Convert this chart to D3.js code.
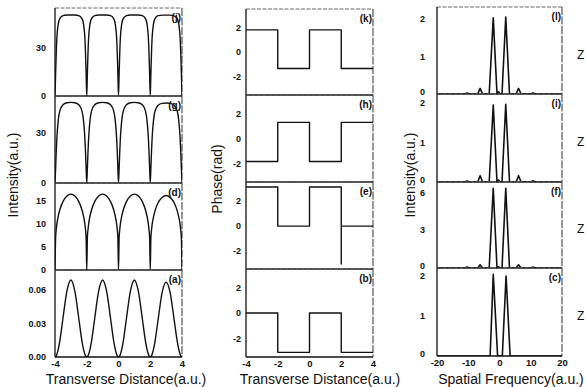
<!DOCTYPE html>
<html>
<head>
<meta charset="utf-8">
<script src="https://cdn.jsdelivr.net/npm/d3@7"></script>
<style>
	body { margin: 0; background: #fff; }
	text { font-family: "Liberation Sans", Arial, sans-serif; fill: #111; }
</style>
</head>
<body>
<svg id="vis"></svg>
<script>
	// ---- data ----
	// transverse distance samples (left column)
	var xGrid = [-4, -3.96, -3.92, -3.88, -3.8, -3.7, -3.5, -3.25, -3, -2.75, -2.5, -2.3, -2.2, -2.12, -2.08, -2.04,
		-2, -1.96, -1.92, -1.88, -1.8, -1.7, -1.5, -1.25, -1, -0.75, -0.5, -0.3, -0.2, -0.12, -0.08, -0.04,
		0, 0.04, 0.08, 0.12, 0.2, 0.3, 0.5, 0.75, 1, 1.25, 1.5, 1.7, 1.8, 1.88, 1.92, 1.96,
		2, 2.04, 2.08, 2.12, 2.2, 2.3, 2.5, 2.75, 3, 3.25, 3.5, 3.7, 3.8, 3.88, 3.92, 3.96, 4];

	var jVals = [0, 14, 27, 36, 44, 47.5, 49.3, 49.7, 49.7, 49.7, 49.3, 47.5, 44, 36, 27, 14,
		0, 14, 27, 36, 44, 47.5, 49.3, 49.7, 49.7, 49.7, 49.3, 47.5, 44, 36, 27, 14,
		0, 14, 27, 36, 44, 47.5, 49.3, 49.7, 49.7, 49.7, 49.3, 47.5, 44, 36, 27, 14,
		0, 14, 27, 36, 44, 47.5, 49.3, 49.6, 49.6, 49.6, 49.2, 47.5, 44, 36, 27, 14, 0];

	var gVals = [0, 9, 19, 27, 37, 43, 46.8, 48, 48.2, 48, 46.8, 43, 37, 27, 19, 9,
		0, 9, 19, 27, 37, 43, 46.8, 48, 48.2, 48, 46.8, 43, 37, 27, 19, 9,
		0, 9, 19, 27, 37, 43, 46.8, 48, 48.2, 48, 46.8, 43, 37, 27, 19, 9,
		0, 9, 19, 27, 37, 43, 46.5, 47.6, 47.8, 47.6, 46.5, 43, 37, 27, 19, 9, 0];

	var dVals = [0, 7, 8.7, 9.9, 11.5, 12.9, 14.7, 15.9, 16.3, 15.9, 14.7, 12.9, 11.5, 9.9, 8.7, 7,
		0, 7, 8.7, 9.9, 11.5, 12.9, 14.7, 15.9, 16.3, 15.9, 14.7, 12.9, 11.5, 9.9, 8.7, 7,
		0, 7, 8.7, 9.9, 11.5, 12.9, 14.7, 15.9, 16.3, 15.9, 14.7, 12.9, 11.5, 9.9, 8.7, 7,
		0, 7, 8.6, 9.8, 11.3, 12.7, 14.5, 15.6, 16.0, 15.6, 14.5, 12.7, 11.3, 9.8, 8.6, 7, 0];

	var aVals = [0, 0.0003, 0.001, 0.0025, 0.0066, 0.014, 0.0345, 0.059, 0.069, 0.059, 0.0345, 0.014, 0.0066, 0.0025, 0.001, 0.0003,
		0, 0.0003, 0.001, 0.0025, 0.0066, 0.014, 0.0345, 0.059, 0.069, 0.059, 0.0345, 0.014, 0.0066, 0.0025, 0.001, 0.0003,
		0, 0.0003, 0.001, 0.0025, 0.0066, 0.014, 0.0345, 0.059, 0.069, 0.059, 0.0345, 0.014, 0.0066, 0.0025, 0.001, 0.0003,
		0, 0.0003, 0.001, 0.0025, 0.0066, 0.014, 0.034, 0.058, 0.067, 0.058, 0.034, 0.014, 0.0066, 0.0025, 0.001, 0.0003, 0];

	// phase steps (middle column)
	var kX = [-4, -2, -2, 0, 0, 2, 2, 4];
	var kY = [1.8, 1.8, -1.34, -1.34, 1.8, 1.8, -1.34, -1.34];
	var hX = [-4, -2, -2, 0, 0, 2, 2, 4];
	var hY = [-1.85, -1.85, 1.3, 1.3, -1.85, -1.85, 1.3, 1.3];
	var eX = [-4, -2, -2, 0, 0, 2, 2, 2, 4];
	var eY = [3.1, 3.1, -0.05, -0.05, 3.1, 3.1, -3.1, -0.05, -0.05];
	var bX = [-4, -2, -2, 0, 0, 2, 2, 4];
	var bY = [0, 0, -3.13, -3.13, 0, 0, -3.13, -3.13];

	// spectra (right column)
	var specX = [-20, -11, -10.4, -9.8, -7, -6.2, -5.4, -3.3, -2, -0.8, -0.3, 0.2, 0.8, 2, 3.2, 5.3, 6.1, 6.9, 10, 10.7, 11.4, 20];
	var lY = [0, 0, 0.03, 0, 0, 0.15, 0, 0, 2.03, 0, 0.06, 0, 0, 2.05, 0, 0, 0.15, 0, 0, 0.03, 0, 0];
	var iY = [0, 0, 0.03, 0, 0, 0.16, 0, 0, 1.95, 0, 0.05, 0, 0, 1.97, 0, 0, 0.16, 0, 0, 0.03, 0, 0];
	var fY = [0, 0, 0.08, 0, 0, 0.25, 0, 0, 6.3, 0, 0.1, 0, 0, 6.3, 0, 0, 0.25, 0, 0, 0.08, 0, 0];
	var cX = [-20, -3.0, -2.0, -0.6, 0.9, 2.1, 3.4, 20];
	var cY = [0, 0, 2.04, 0, 0, 2.0, 0, 0];

	var distTicks = [-4, -2, 0, 2, 4];
	var freqTicks = [-20, -10, 0, 10, 20];
	var phaseTicks = [-2, 0, 2];

	// ---- layout ----
	var W = 586, H = 387;
	var svg = d3.select("svg#vis").attr("width", W).attr("height", H);
	svg.append("rect").attr("width", W).attr("height", H).attr("fill", "#fff");

	var cols = [
		{x0: 55, x1: 182, tops: [8, 96, 183, 270, 357], pad: 9, ytitle: "Intensity(a.u.)", tx: 13, ty: 175, xtitle: "Transverse Distance(a.u.)", xtx: 126},
		{x0: 246, x1: 373, tops: [9, 95, 182, 269, 357], pad: 5, ytitle: "Phase(rad)", tx: 217, ty: 179, xtitle: "Transverse Distance(a.u.)", xtx: 320},
		{x0: 437, x1: 562, tops: [7, 94, 182, 268, 356], pad: 12, ytitle: "Intensity(a.u.)", tx: 410, ty: 175, xtitle: "Spatial Frequency(a.u.)", xtx: 511}
	];

	var panels = [
		{col: 0, row: 0, xs: xGrid, ys: jVals, yd: [0, 54], ticks: [0, 30], label: "(j)", smooth: true},
		{col: 0, row: 1, xs: xGrid, ys: gVals, yd: [0, 52], ticks: [0, 30], label: "(g)", smooth: true},
		{col: 0, row: 2, xs: xGrid, ys: dVals, yd: [0, 18.7], ticks: [0, 5, 10, 15], label: "(d)", smooth: true},
		{col: 0, row: 3, xs: xGrid, ys: aVals, yd: [0, 0.078], ticks: [0, 0.03, 0.06], label: "(a)", smooth: true, fmt: d3.format(".2f")},
		{col: 1, row: 0, xs: kX, ys: kY, yd: [-3.5, 3.5], ticks: phaseTicks, label: "(k)"},
		{col: 1, row: 1, xs: hX, ys: hY, yd: [-3.5, 3.5], ticks: phaseTicks, label: "(h)"},
		{col: 1, row: 2, xs: eX, ys: eY, yd: [-3.5, 3.5], ticks: phaseTicks, label: "(e)"},
		{col: 1, row: 3, xs: bX, ys: bY, yd: [-3.5, 3.5], ticks: phaseTicks, label: "(b)"},
		{col: 2, row: 0, xs: specX, ys: lY, yd: [0, 2.32], ticks: [0, 1, 2], label: "(l)", z: true},
		{col: 2, row: 1, xs: specX, ys: iY, yd: [0, 2.23], ticks: [0, 1, 2], label: "(i)", z: true},
		{col: 2, row: 2, xs: specX, ys: fY, yd: [0, 6.8], ticks: [0, 3, 6], label: "(f)", z: true},
		{col: 2, row: 3, xs: cX, ys: cY, yd: [0, 2.2], ticks: [0, 1, 2], label: "(c)", z: true}
	];

	panels.forEach(function(p, idx) {
		var c = cols[p.col];
		var top = c.tops[p.row], bottom = c.tops[p.row + 1];
		var xd = p.col === 2 ? [-20, 20] : [-4, 4];
		var x = d3.scaleLinear().domain(xd).range([c.x0, c.x1]);
		var y = d3.scaleLinear().domain(p.yd).range([bottom, top]);
		var g = svg.append("g").attr("class", "panel");

		g.append("clipPath").attr("id", "clip" + idx)
			.append("rect").attr("x", c.x0).attr("y", top).attr("width", c.x1 - c.x0).attr("height", bottom - top);

		// frame: top & right faint, left & bottom solid
		g.append("line").attr("x1", c.x0).attr("x2", c.x1).attr("y1", top).attr("y2", top)
			.attr("stroke", "#666").attr("stroke-width", 1).attr("stroke-dasharray", "4,1.5");
		g.append("line").attr("x1", c.x1).attr("x2", c.x1).attr("y1", top).attr("y2", bottom)
			.attr("stroke", "#444").attr("stroke-width", 1.1).attr("stroke-dasharray", "8,1.5");

		var line = d3.line()
			.x(function(d, i) { return x(p.xs[i]); })
			.y(function(d) { return y(d); })
			.curve(p.smooth ? d3.curveMonotoneX : d3.curveLinear);

		g.append("path").datum(p.ys)
			.attr("clip-path", "url(#clip" + idx + ")")
			.attr("d", line)
			.attr("fill", "none")
			.attr("stroke", "#111")
			.attr("stroke-width", p.col === 2 ? 1.6 : 1.4)
			.attr("stroke-linejoin", "round");

		g.append("line").attr("x1", c.x0).attr("x2", c.x0).attr("y1", top).attr("y2", bottom)
			.attr("stroke", "#111").attr("stroke-width", 1.3);
		g.append("line").attr("x1", c.x0).attr("x2", c.x1).attr("y1", bottom).attr("y2", bottom)
			.attr("stroke", "#111").attr("stroke-width", 1.3);

		// y tick labels
		var ya = g.append("g")
			.attr("transform", "translate(" + c.x0 + ",0)")
			.call(d3.axisLeft(y).tickValues(p.ticks).tickSize(0).tickPadding(c.pad)
				.tickFormat(p.fmt || function(d) { return String(d); }));
		ya.select(".domain").remove();
		ya.selectAll("text").style("font-size", "9px").style("font-weight", "bold")
			.style("font-family", "'Liberation Sans', Arial, sans-serif").attr("fill", "#111");
		// in the right column the "0" sits a little above its axis line
		if (p.col === 2) {
			ya.selectAll(".tick").filter(function(d) { return d === 0; })
				.select("text").attr("dy", "0.1em");
		}

		// x tick labels on the bottom row
		if (p.row === 3) {
			var xa = g.append("g")
				.attr("transform", "translate(0," + bottom + ")")
				.call(d3.axisBottom(x).tickValues(p.col === 2 ? freqTicks : distTicks).tickSize(0).tickPadding(3)
					.tickFormat(function(d) { return String(d); }));
			xa.select(".domain").remove();
			xa.selectAll("text").style("font-size", "9.5px").style("font-weight", "bold")
				.style("font-family", "'Liberation Sans', Arial, sans-serif").attr("fill", "#111");
		}

		// panel letter
		g.append("text")
			.attr("x", c.x1 - 1).attr("y", top + 13)
			.attr("text-anchor", "end")
			.style("font-size", "10px").style("font-weight", "bold")
			.text(p.label);

		if (p.z) {
			g.append("text")
				.attr("x", 577).attr("y", (top + bottom) / 2 + 8)
				.style("font-size", "12px")
				.text("Z");
		}
	});

	// axis titles
	cols.forEach(function(c) {
		svg.append("text")
			.attr("transform", "translate(" + c.tx + "," + c.ty + ") rotate(-90)")
			.attr("dy", "0.35em")
			.attr("text-anchor", "middle")
			.style("font-size", "14px")
			.text(c.ytitle);
		svg.append("text")
			.attr("x", c.xtx).attr("y", 384)
			.attr("text-anchor", "middle")
			.style("font-size", "14px")
			.text(c.xtitle);
	});
</script>
</body>
</html>
